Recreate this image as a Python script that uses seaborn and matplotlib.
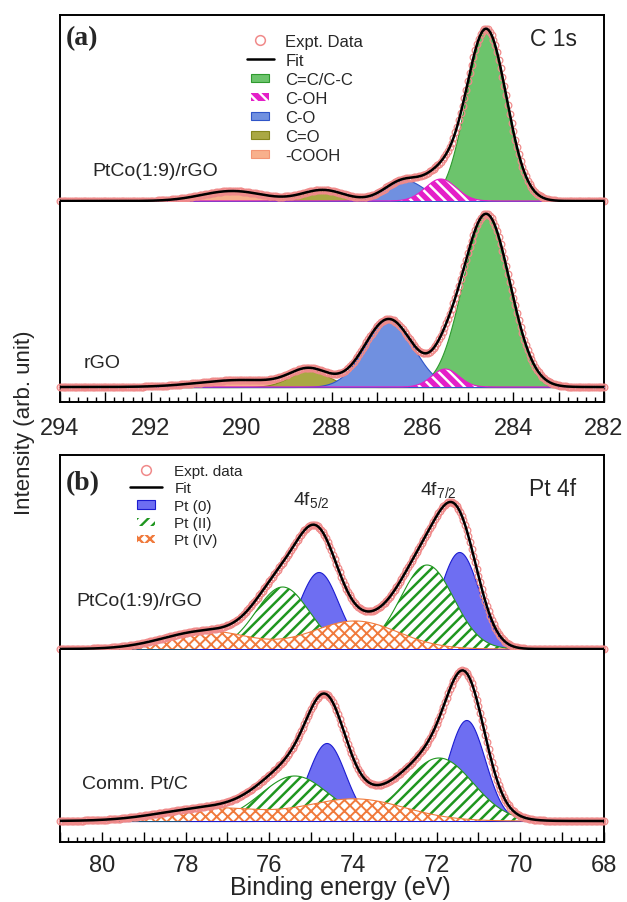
import numpy as np
import pandas as pd
import matplotlib
matplotlib.use('Agg')
import matplotlib.pyplot as plt
import seaborn as sns
from matplotlib.lines import Line2D
from matplotlib.patches import Patch, Rectangle
from matplotlib.legend_handler import HandlerPatch
from matplotlib.ticker import MultipleLocator, FuncFormatter

# ---------------- data ----------------
# C 1s: Gaussian fit components (centre eV, height arb., FWHM eV)
c1s_xlim = [294, 282]
c1s_ticks = [294, 292, 290, 288, 286, 284, 282]
c1s_components = ['C=C/C-C', 'C-OH', 'C-O', 'C=O', '-COOH']
c1s_ptco_center = [284.6, 285.6, 286.4, 288.2, 290.2]
c1s_ptco_height = [172, 22, 21, 11, 10]
c1s_ptco_fwhm = [1.05, 0.8, 1.0, 1.1, 1.6]
c1s_rgo_center = [284.6, 285.5, 286.75, 288.5, 290.0]
c1s_rgo_height = [173, 18, 68, 17, 7]
c1s_rgo_fwhm = [1.23, 0.7, 1.25, 1.0, 2.2]

# Pt 4f: doublet components (4f7/2 and 4f5/2)
pt_xlim = [81, 68]
pt_ticks = [80, 78, 76, 74, 72, 70, 68]
pt_components = ['Pt (0)', 'Pt (II)', 'Pt (IV)']
pt_ptco_center_72 = [71.46, 72.23, 73.95]
pt_ptco_center_52 = [74.82, 75.68, 77.5]
pt_ptco_height_72 = [97, 84, 28]
pt_ptco_height_52 = [77, 62, 18]
pt_ptco_fwhm = [1.1, 1.5, 2.4]
pt_comm_center_72 = [71.29, 71.94, 73.95]
pt_comm_center_52 = [74.63, 75.39, 77.4]
pt_comm_height_72 = [101, 63, 22]
pt_comm_height_52 = [78, 45, 13]
pt_comm_fwhm = [1.05, 1.9, 2.8]

# ---------------- style ----------------
sns.set_style('white')
plt.rcParams['font.family'] = ['Liberation Sans', 'DejaVu Sans']
plt.rcParams['mathtext.default'] = 'regular'
plt.rcParams['hatch.linewidth'] = 1.7

c1s_style = {
    'C=C/C-C': dict(fc='#6cc46c', ec='#2e9a2e', hatch=None, hc=None, hlw=0),
    'C-OH': dict(fc='#e41fc8', ec='#e41fc8', hatch='\\\\\\', hc='white', hlw=1.8),
    'C-O': dict(fc='#7090e0', ec='#2f55c8', hatch=None, hc=None, hlw=0),
    'C=O': dict(fc='#aaa844', ec='#86861e', hatch=None, hc=None, hlw=0),
    '-COOH': dict(fc='#f8b08c', ec='#f39574', hatch=None, hc=None, hlw=0),
}
c1s_draw_order = ['C=C/C-C', '-COOH', 'C=O', 'C-O', 'C-OH']
pt_style = {
    'Pt (0)': dict(fc='#6e6ef2', ec='#1c1cd0', hatch=None, hc=None, hlw=0),
    'Pt (II)': dict(fc='white', ec='#1f961f', hatch='///', hc='#1f961f', hlw=1.8),
    'Pt (IV)': dict(fc='white', ec='#f07a3c', hatch='xxx', hc='#f07a3c', hlw=1.4),
}
data_color = '#f08a8a'


def gauss(x, c, h, w):
    return h * np.exp(-4 * np.log(2) * ((x - c) / w) ** 2)


def fill_component(ax, x, y, st, z):
    if st['hatch'] is None:
        ax.fill_between(x, 0, y, facecolor=st['fc'], edgecolor=st['ec'], linewidth=0.8, zorder=z)
    else:
        with plt.rc_context({'hatch.linewidth': st['hlw']}):
            coll = ax.fill_between(x, 0, y, facecolor=st['fc'], edgecolor=st['hc'],
                                   hatch=st['hatch'], linewidth=0, zorder=z)
        if hasattr(coll, 'set_hatch_linewidth'):
            coll.set_hatch_linewidth(st['hlw'])
        ax.plot(x, y, color=st['ec'], lw=0.8, zorder=z + 0.1)


def draw_spectrum(ax, xlim, comps, order, styles):
    x = np.linspace(xlim[0], xlim[1], 1500)
    total = np.zeros_like(x)
    curves = {}
    for name, (c, h, w) in comps.items():
        curves[name] = sum(gauss(x, ci, hi, w) for ci, hi in zip(c, h))
        total += curves[name]
    for i, name in enumerate(order):
        fill_component(ax, x, curves[name], styles[name], 2 + i * 0.2)
    # experimental points
    xp = np.arange(xlim[0], xlim[1] - 0.001, -0.04)
    yp = np.zeros_like(xp)
    for name, (c, h, w) in comps.items():
        yp += sum(gauss(xp, ci, hi, w) for ci, hi in zip(c, h))
    ax.plot(xp, yp, 'o', mfc='none', mec=data_color, ms=4.8, mew=0.9, clip_on=False, zorder=4)
    df = pd.DataFrame({'x': x, 'fit': total})
    sns.lineplot(data=df, x='x', y='fit', ax=ax, color='black', lw=1.8, sort=False,
                 estimator=None, zorder=5)
    ax.set_xlim(xlim)
    ax.set_xlabel('')
    ax.set_ylabel('')
    ax.set_yticks([])


fig = plt.figure(figsize=(6.27, 9.03), dpi=100)
L, W = 60 / 627, 544 / 627


def axpos(top_px, bot_px):
    return [L, 1 - bot_px / 903, W, (bot_px - top_px) / 903]


ax_a1 = fig.add_axes(axpos(16, 203))
ax_a2 = fig.add_axes(axpos(203, 403))
ax_b1 = fig.add_axes(axpos(456, 651))
ax_b2 = fig.add_axes(axpos(651, 843))

c1s_ptco = {n: ([c], [h], w) for n, c, h, w in zip(c1s_components, c1s_ptco_center, c1s_ptco_height, c1s_ptco_fwhm)}
c1s_rgo = {n: ([c], [h], w) for n, c, h, w in zip(c1s_components, c1s_rgo_center, c1s_rgo_height, c1s_rgo_fwhm)}
pt_ptco = {n: ([c1, c2], [h1, h2], w) for n, c1, c2, h1, h2, w in
           zip(pt_components, pt_ptco_center_72, pt_ptco_center_52, pt_ptco_height_72, pt_ptco_height_52, pt_ptco_fwhm)}
pt_comm = {n: ([c1, c2], [h1, h2], w) for n, c1, c2, h1, h2, w in
           zip(pt_components, pt_comm_center_72, pt_comm_center_52, pt_comm_height_72, pt_comm_height_52, pt_comm_fwhm)}

draw_spectrum(ax_a1, c1s_xlim, c1s_ptco, c1s_draw_order, c1s_style)
draw_spectrum(ax_a2, c1s_xlim, c1s_rgo, c1s_draw_order, c1s_style)
draw_spectrum(ax_b1, pt_xlim, pt_ptco, pt_components, pt_style)
draw_spectrum(ax_b2, pt_xlim, pt_comm, pt_components, pt_style)

ax_a1.set_ylim(-1, 186)
ax_a2.set_ylim(-15, 185)
ax_b1.set_ylim(-1, 194)
ax_b2.set_ylim(-21, 171)

for ax in [ax_a1, ax_a2, ax_b1, ax_b2]:
    for s in ax.spines.values():
        s.set_color('black')
        s.set_linewidth(1.4)
for ax in [ax_a1, ax_b1]:
    ax.spines['bottom'].set_visible(False)
    ax.set_xticks([])
for ax in [ax_a2, ax_b2]:
    ax.spines['top'].set_visible(False)

for ax, ticks, pad in [(ax_a2, c1s_ticks, 11), (ax_b2, pt_ticks, 8.5)]:
    ax.xaxis.set_major_locator(MultipleLocator(1))
    ax.xaxis.set_minor_locator(MultipleLocator(0.2))
    ax.xaxis.set_major_formatter(FuncFormatter(
        lambda v, p, t=ticks: f'{int(round(v))}' if int(round(v)) in t else ''))
    ax.tick_params(axis='x', which='both', direction='in', bottom=True, top=False,
                   color='black', width=1.0)
    ax.tick_params(axis='x', which='major', length=7, labelsize=17, pad=pad)
    ax.tick_params(axis='x', which='minor', length=3.6)


# ---------------- legends ----------------
class SmallPatch(HandlerPatch):
    def __init__(self, w_pt, h_pt, **kw):
        self.w_pt, self.h_pt = w_pt, h_pt
        super().__init__(**kw)

    def create_artists(self, legend, orig_handle, xdescent, ydescent, width, height, fontsize, trans):
        cx = -xdescent + width / 2
        cy = -ydescent + height / 2
        p = Rectangle((cx - self.w_pt / 2, cy - self.h_pt / 2), self.w_pt, self.h_pt)
        self.update_prop(p, orig_handle, legend)
        p.set_transform(trans)
        return [p]


def make_handles(names, styles, label_data):
    hs = [Line2D([], [], ls='none', marker='o', mfc='none', mec=data_color, ms=7, mew=1.1, label=label_data),
          Line2D([], [], color='black', lw=1.8, label='Fit')]
    for n in names:
        st = styles[n]
        if st['hatch'] is None:
            hs.append(Patch(facecolor=st['fc'], edgecolor=st['ec'], lw=0.8, label=n))
        else:
            hs.append(Patch(facecolor=st['fc'], edgecolor=st['hc'], hatch=st['hatch'], lw=0, label=n))
    return hs


ha = make_handles(c1s_components, c1s_style, 'Expt. Data')
leg_a = ax_a1.legend(handles=ha, loc='upper left', bbox_to_anchor=(247 / 627, 1 - 35 / 903),
                     bbox_transform=fig.transFigure, frameon=False, fontsize=12,
                     borderpad=0, borderaxespad=0, handlelength=1.6, handletextpad=0.7,
                     labelspacing=0.24,
                     handler_map={Patch: SmallPatch(13, 6)})
hb = make_handles(pt_components, pt_style, 'Expt. data')
leg_b = ax_b1.legend(handles=hb, loc='upper left', bbox_to_anchor=(130 / 627, 1 - 465 / 903),
                     bbox_transform=fig.transFigure, frameon=False, fontsize=11,
                     borderpad=0, borderaxespad=0, handlelength=2.1, handletextpad=0.8,
                     labelspacing=0.22,
                     handler_map={Patch: SmallPatch(13, 6)})


# ---------------- texts ----------------
def ftext(xpx, ypx, s, **kw):
    fig.text(xpx / 627, 1 - ypx / 903, s, **kw)


ftext(66, 39, '(a)', ha='left', va='center', fontsize=20, fontweight='bold', family='Liberation Serif')
ftext(66, 484, '(b)', ha='left', va='center', fontsize=20, fontweight='bold', family='Liberation Serif')
ftext(553, 40, 'C 1s', ha='center', va='center', fontsize=16.5)
ftext(553, 490, 'Pt 4f', ha='center', va='center', fontsize=16.5)
ftext(92, 172, 'PtCo(1:9)/rGO', ha='left', va='center', fontsize=14)
ftext(84, 363, 'rGO', ha='left', va='center', fontsize=14)
ftext(76, 602, 'PtCo(1:9)/rGO', ha='left', va='center', fontsize=14)
ftext(82, 785, 'Comm. Pt/C', ha='left', va='center', fontsize=14)
ftext(311, 500, r'4f$_{5/2}$', ha='center', va='center', fontsize=14)
ftext(438, 490, r'4f$_{7/2}$', ha='center', va='center', fontsize=14)
ftext(25, 423, 'Intensity (arb. unit)', ha='center', va='center', rotation=90, fontsize=16)
ftext(340, 888, 'Binding energy (eV)', ha='center', va='center', fontsize=18)

fig.savefig('out.png', dpi=100)
